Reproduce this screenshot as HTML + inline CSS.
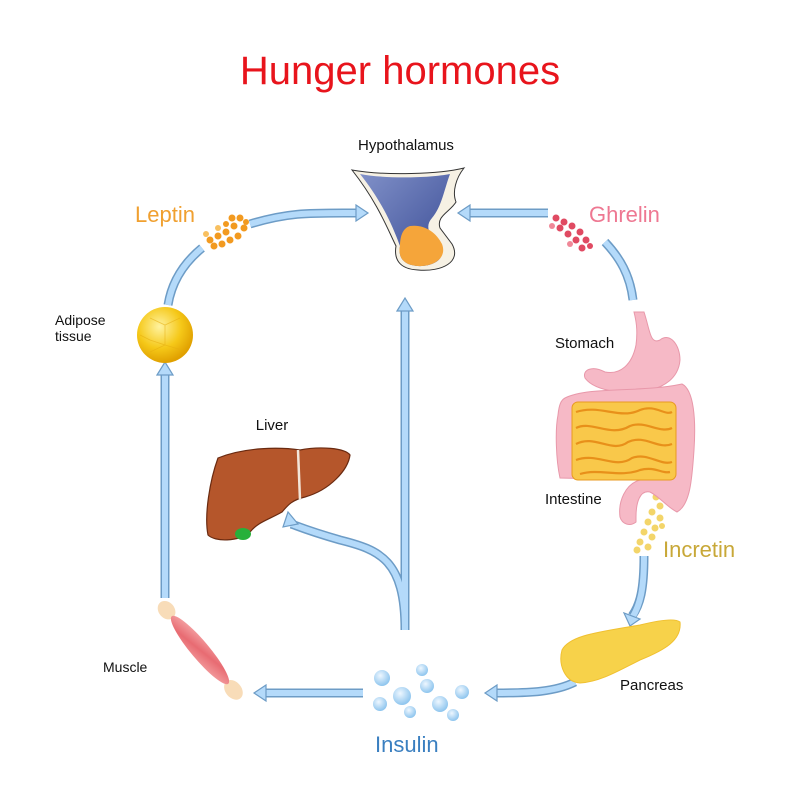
<!DOCTYPE html>
<html><head><meta charset="utf-8"><style>
html,body{margin:0;padding:0;background:#fff;}
svg{display:block;font-family:"Liberation Sans",Arial,sans-serif;}
</style></head><body>
<svg width="800" height="800" viewBox="0 0 800 800" xmlns="http://www.w3.org/2000/svg">
<defs>
<radialGradient id="fat" cx="40%" cy="35%" r="65%"><stop offset="0" stop-color="#fff3a0"/><stop offset="0.6" stop-color="#f5c818"/><stop offset="1" stop-color="#e0a000"/></radialGradient>
<linearGradient id="hyp" x1="0" y1="0" x2="1" y2="1"><stop offset="0" stop-color="#8090c8"/><stop offset="1" stop-color="#3a4c95"/></linearGradient>
<radialGradient id="bub" cx="40%" cy="35%" r="65%"><stop offset="0" stop-color="#eef7ff"/><stop offset="1" stop-color="#8ec5ee"/></radialGradient>
<linearGradient id="mus" x1="0" y1="0" x2="1" y2="1"><stop offset="0" stop-color="#f7b0b0"/><stop offset="0.5" stop-color="#e86b72"/><stop offset="1" stop-color="#f5a8a8"/></linearGradient>
</defs>
<text x="400" y="84" text-anchor="middle" font-size="40" fill="#e8141c">Hunger hormones</text>

<g fill="none" stroke-linecap="butt">
<g stroke="#6d9cc6" stroke-width="9">
<path d="M250 224 C290 212 310 213 356 213"/>
<path d="M168 305 C172 280 185 262 202 248"/>
<path d="M165 598 L165 374"/>
<path d="M363 693 L266 693"/>
<path d="M575 682 C555 692 530 693 497 693"/>
<path d="M644 556 C644 590 640 605 632 616"/>
<path d="M405 630 L405 310"/>
<path d="M405 630 C405 560 380 550 340 540 C305 530 295 525 291 524"/>
<path d="M548 213 L470 213"/>
<path d="M605 242 C620 258 630 275 633 300"/>
</g>
<g stroke="#b4dafa" stroke-width="6">
<path d="M250 224 C290 212 310 213 358 213"/>
<path d="M168 305 C172 280 185 262 202 248"/>
<path d="M165 598 L165 372"/>
<path d="M363 693 L264 693"/>
<path d="M575 682 C555 692 530 693 495 693"/>
<path d="M644 556 C644 590 640 605 632 618"/>
<path d="M405 630 L405 308"/>
<path d="M405 630 C405 560 380 550 340 540 C305 530 295 525 291 524"/>
<path d="M548 213 L468 213"/>
<path d="M605 242 C620 258 630 275 633 300"/>
</g>
</g>
<g fill="#b4dafa" stroke="#6d9cc6" stroke-width="1.2">
<polygon points="356,205 368,213 356,221"/>
<polygon points="157,375 165,362 173,375"/>
<polygon points="266,685 254,693 266,701"/>
<polygon points="497,685 485,693 497,701"/>
<polygon points="624,613 630,626 640,619"/>
<polygon points="397,311 405,298 413,311"/>
<polygon points="283,527 288,512 298,524"/>
<polygon points="470,205 458,213 470,221"/>
</g>

<!-- Hypothalamus -->
<text x="406" y="150" text-anchor="middle" font-size="15" fill="#111">Hypothalamus</text>
<path d="M352 170 C385 176 440 174 464 168 C456 178 452 192 456 202 C450 212 436 216 440 228 L452 244 C462 262 442 272 418 270 C398 269 394 258 396 246 C388 230 378 203 352 170Z" fill="#f6f1e4" stroke="#333" stroke-width="1"/>
<path d="M360 174 C385 179 430 178 450 174 C444 190 442 206 432 218 C425 226 428 234 440 246 C448 260 430 267 418 266 C402 265 398 256 400 246 C394 230 384 204 360 174Z" fill="url(#hyp)"/>
<path d="M410 226 C424 224 436 232 442 244 C448 260 430 267 418 266 C402 265 398 256 400 246 C400 236 403 228 410 226Z" fill="#f5a53a"/>

<text x="135" y="222" font-size="22" fill="#f0a030">Leptin</text>
<g fill="#f29a20">
<circle cx="210" cy="240" r="3.5"/><circle cx="218" cy="236" r="3.5"/><circle cx="226" cy="232" r="3.5"/><circle cx="234" cy="226" r="3.5"/><circle cx="240" cy="218" r="3.5"/><circle cx="232" cy="218" r="3.5"/><circle cx="244" cy="228" r="3.5"/><circle cx="214" cy="246" r="3.5"/><circle cx="222" cy="244" r="3.5"/><circle cx="230" cy="240" r="3.5"/><circle cx="238" cy="236" r="3.5"/><circle cx="246" cy="222" r="3"/><circle cx="226" cy="224" r="3"/><circle cx="218" cy="228" r="3" fill="#f8c060"/><circle cx="206" cy="234" r="3" fill="#f8c060"/>
</g>

<text x="55" y="325" font-size="14" fill="#111">Adipose</text>
<text x="55" y="341" font-size="14" fill="#111">tissue</text>
<circle cx="165" cy="335" r="28" fill="url(#fat)"/>
<g fill="none" stroke="#e6ad10" stroke-width="0.8" opacity="0.6"><path d="M150 318 L165 325 L180 318 M165 325 L165 345 L150 352 M165 345 L182 350 M140 335 L150 340 L165 345"/></g>

<!-- Liver -->
<text x="272" y="430" text-anchor="middle" font-size="15" fill="#111">Liver</text>
<path d="M218 458 C245 447 280 447 300 450 C320 446 345 448 350 455 C348 470 330 490 305 497 C292 500 288 505 282 512 C268 520 258 522 250 532 C238 542 215 542 208 535 C204 515 210 480 218 458Z" fill="#b5562b" stroke="#6a2a10" stroke-width="1.2"/>
<path d="M298 450 L300 500" stroke="#f3e6da" stroke-width="2.5"/>
<ellipse cx="243" cy="534" rx="8" ry="6" fill="#27b03a"/>

<g transform="translate(200,650) rotate(50)">
<ellipse cx="-52" cy="0" rx="10" ry="8" fill="#f8dcb8"/>
<ellipse cx="52" cy="0" rx="11" ry="8" fill="#f8dcb8"/>
<ellipse cx="0" cy="0" rx="44" ry="9" fill="url(#mus)"/>
</g>
<text x="103" y="672" font-size="14" fill="#111">Muscle</text>

<g fill="url(#bub)">
<circle cx="382" cy="678" r="8"/><circle cx="402" cy="696" r="9"/><circle cx="427" cy="686" r="7"/><circle cx="440" cy="704" r="8"/><circle cx="462" cy="692" r="7"/><circle cx="380" cy="704" r="7"/><circle cx="410" cy="712" r="6"/><circle cx="453" cy="715" r="6"/><circle cx="422" cy="670" r="6"/>
</g>
<text x="375" y="752" font-size="22" fill="#3a7fc0">Insulin</text>

<path d="M562 650 C570 635 600 632 640 625 C660 620 675 618 680 622 C682 640 665 650 640 660 C620 670 600 682 580 683 C565 682 558 665 562 650Z" fill="#f7d24a" stroke="#f0c030" stroke-width="1"/>
<text x="620" y="690" font-size="15" fill="#111">Pancreas</text>

<g fill="#f3d56a">
<circle cx="656" cy="497" r="3.5"/><circle cx="660" cy="506" r="3.5"/><circle cx="652" cy="512" r="3.5"/><circle cx="660" cy="518" r="3.5"/><circle cx="648" cy="522" r="3.5"/><circle cx="655" cy="528" r="3.5"/><circle cx="644" cy="532" r="3.5"/><circle cx="652" cy="537" r="3.5"/><circle cx="640" cy="542" r="3.5"/><circle cx="648" cy="547" r="3.5"/><circle cx="637" cy="550" r="3.5"/><circle cx="662" cy="526" r="3"/>
</g>
<text x="663" y="557" font-size="22" fill="#c8a838">Incretin</text>

<g fill="#e04a62">
<circle cx="556" cy="218" r="3.5"/><circle cx="564" cy="222" r="3.5"/><circle cx="572" cy="226" r="3.5"/><circle cx="580" cy="232" r="3.5"/><circle cx="586" cy="240" r="3.5"/><circle cx="560" cy="228" r="3.5"/><circle cx="568" cy="234" r="3.5"/><circle cx="576" cy="240" r="3.5"/><circle cx="582" cy="248" r="3.5"/><circle cx="590" cy="246" r="3"/><circle cx="552" cy="226" r="3" fill="#f08898"/><circle cx="570" cy="244" r="3" fill="#f08898"/>
</g>
<text x="589" y="222" font-size="22" fill="#ee7892">Ghrelin</text>

<text x="555" y="348" font-size="15" fill="#111">Stomach</text>
<path d="M644 312 C650 330 650 345 660 340 C670 332 680 345 680 360 C678 385 650 395 620 392 C600 390 590 385 585 378 C582 370 592 365 605 372 C620 375 632 365 636 345 C638 330 636 320 634 312Z" fill="#f6b9c6" stroke="#e898aa" stroke-width="1"/>
<path d="M565 398 C590 386 640 393 682 384 C694 390 696 420 694 450 C692 480 690 505 677 512 C667 507 660 497 650 492 C640 490 636 502 636 517 L636 522 C630 527 622 524 620 517 C618 502 625 484 640 480 L560 478 C556 460 555 430 558 415 C559 405 561 400 565 398Z" fill="#f6b9c6" stroke="#e898aa" stroke-width="1"/>
<rect x="572" y="402" width="104" height="78" rx="6" fill="#f9c84a" stroke="#e89a20" stroke-width="1"/>
<g fill="none" stroke="#e8901a" stroke-width="2.2">
<path d="M576 412 C600 404 620 420 640 410 C655 404 665 416 672 412"/>
<path d="M576 428 C592 420 610 438 630 426 C645 420 660 434 672 428"/>
<path d="M576 444 C595 434 612 454 628 442 C645 434 658 450 672 444"/>
<path d="M576 460 C598 452 615 470 632 458 C648 452 660 466 672 462"/>
<path d="M580 474 C600 468 620 478 640 470 C655 466 662 474 670 472"/>
</g>
<text x="545" y="504" font-size="15" fill="#111">Intestine</text>
</svg>
</body></html>
